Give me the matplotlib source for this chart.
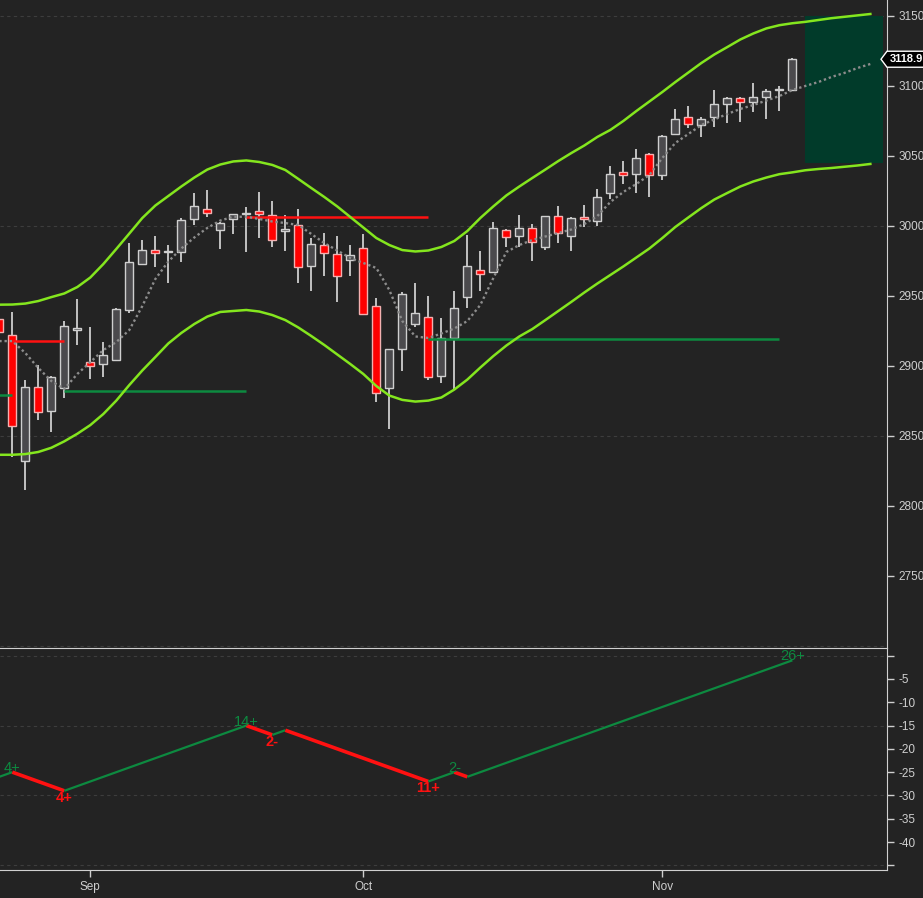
import matplotlib
matplotlib.use("Agg")
import matplotlib.pyplot as plt
from matplotlib.patches import Rectangle, Polygon
import numpy as np

plt.rcParams["font.family"] = ["Liberation Sans", "DejaVu Sans"]

# one candle per session, x = bar number (month ticks below)
bar_idx = list(range(-1, 61))
opens = [2933.1, 2921.7, 2832.1, 2884.6, 2867.9, 2884.3, 2925.5, 2902.4, 2901.0, 2904.3,
         2939.6, 2972.4, 2982.6, 2981.0, 2981.0, 3004.6, 3012.1, 2996.7, 3004.6, 3008.5,
         3010.3, 3007.4, 2996.0, 3000.7, 2971.0, 2986.0, 2979.6, 2975.7, 2983.9, 2942.4,
         2883.9, 2911.7, 2929.6, 2934.6, 2892.9, 2920.0, 2948.9, 2968.1, 2966.7, 2996.7,
         2992.4, 2998.1, 2984.6, 3006.7, 2992.4, 3006.0, 3003.6, 3023.1, 3038.6, 3036.7,
         3051.4, 3036.0, 3065.3, 3077.4, 3071.7, 3077.4, 3086.7, 3091.0, 3088.1, 3091.7,
         3096.7, 3097.1]
highs = [2936.0, 2938.1, 2889.8, 2900.5, 2893.0, 2931.7, 2947.6, 2927.6, 2916.9, 2941.0,
         2987.4, 2989.8, 2992.6, 2986.2, 3005.3, 3023.6, 3025.5, 3002.5, 3008.5, 3013.1,
         3023.9, 3017.6, 3007.6, 3011.7, 2991.4, 2994.6, 2992.6, 2986.0, 2994.1, 2948.1,
         2912.0, 2952.9, 2958.9, 2949.8, 2933.9, 2953.4, 2993.4, 2981.9, 3002.4, 2997.5,
         3007.6, 3001.2, 3007.0, 3014.1, 3006.0, 3014.8, 3026.2, 3042.6, 3046.2, 3054.8,
         3052.0, 3064.6, 3083.1, 3085.5, 3077.4, 3096.9, 3092.1, 3091.7, 3101.7, 3097.4,
         3099.6, 3119.6]
lows = [2920.0, 2835.0, 2811.2, 2861.2, 2852.9, 2876.7, 2914.8, 2890.3, 2892.1, 2903.6,
        2937.9, 2972.0, 2970.7, 2958.9, 2973.9, 3000.5, 3006.0, 2983.6, 2993.9, 2981.0,
        2991.4, 2985.0, 2982.1, 2958.9, 2953.6, 2964.3, 2945.7, 2964.3, 2936.2, 2873.9,
        2854.6, 2896.4, 2927.9, 2889.8, 2887.9, 2882.6, 2941.4, 2953.4, 2966.0, 2984.6,
        2985.0, 2975.0, 2983.0, 2987.9, 2982.1, 2999.1, 2999.8, 3018.9, 3029.6, 3023.1,
        3020.3, 3032.6, 3065.0, 3070.0, 3063.1, 3070.3, 3073.1, 3074.3, 3081.4, 3076.0,
        3082.1, 3096.5]
closes = [2923.9, 2857.1, 2884.6, 2866.7, 2891.7, 2928.1, 2927.0, 2900.0, 2907.4, 2940.3,
          2973.9, 2982.4, 2980.3, 2981.5, 3003.9, 3013.9, 3008.9, 3001.7, 3008.1, 3009.0,
          3008.1, 2989.6, 2997.6, 2970.3, 2986.7, 2980.3, 2963.9, 2978.9, 2937.1, 2880.3,
          2911.7, 2951.0, 2937.4, 2892.1, 2920.0, 2941.0, 2971.0, 2965.3, 2998.1, 2991.7,
          2998.1, 2988.1, 3006.7, 2994.6, 3005.7, 3004.6, 3020.3, 3036.7, 3036.0, 3048.1,
          3036.0, 3063.9, 3076.0, 3072.6, 3076.0, 3086.7, 3091.0, 3088.1, 3092.1, 3096.0,
          3097.4, 3118.9]

# envelope bands and dotted average, projected 6 bars past the last candle
band_idx = list(range(-1, 67))
upper_band = [2943.6, 2943.7, 2944.4, 2946.2, 2949.0, 2951.6, 2956.2, 2963.0, 2972.6, 2983.4,
              2994.4, 3005.5, 3014.4, 3021.2, 3028.0, 3034.4, 3040.1, 3043.7, 3045.9, 3046.6,
              3045.5, 3043.4, 3039.8, 3033.4, 3026.9, 3020.5, 3013.7, 3006.2, 2998.7, 2991.2,
              2986.2, 2982.6, 2981.6, 2982.3, 2984.8, 2989.1, 2996.2, 3005.5, 3013.8, 3021.6,
              3028.0, 3034.1, 3040.1, 3046.2, 3051.9, 3057.3, 3063.4, 3068.4, 3074.8, 3081.9,
              3088.7, 3095.5, 3102.6, 3109.4, 3116.2, 3122.3, 3127.6, 3133.0, 3137.3, 3140.9,
              3143.2, 3144.6, 3145.6, 3146.9, 3148.2, 3149.2, 3150.2, 3151.2]
lower_band = [2836.4, 2836.4, 2836.9, 2838.4, 2841.4, 2846.0, 2851.4, 2857.6, 2865.5, 2875.1,
              2886.2, 2896.6, 2906.2, 2915.9, 2923.4, 2929.8, 2935.1, 2938.4, 2939.1, 2939.8,
              2938.7, 2936.2, 2932.6, 2927.3, 2921.2, 2914.8, 2908.0, 2901.2, 2894.1, 2885.5,
              2878.7, 2875.6, 2874.4, 2875.1, 2877.3, 2883.0, 2890.1, 2898.7, 2906.9, 2914.4,
              2920.9, 2926.2, 2932.6, 2939.1, 2945.6, 2952.3, 2958.7, 2964.8, 2970.9, 2977.3,
              2983.7, 2991.2, 2999.1, 3005.9, 3012.6, 3018.7, 3023.4, 3028.0, 3031.6, 3034.4,
              3036.8, 3038.1, 3039.6, 3040.5, 3041.2, 3042.1, 3043.0, 3044.1]
mid_avg = [2917.6, 2917.6, 2909.1, 2898.4, 2889.1, 2883.4, 2894.1, 2902.6, 2911.2, 2916.9,
           2925.5, 2942.6, 2961.9, 2974.4, 2983.7, 2991.6, 2998.4, 3003.7, 3006.4, 3006.4,
           3004.8, 3003.0, 3001.9, 3000.5, 2994.1, 2987.6, 2982.3, 2976.9, 2973.4, 2969.8,
           2954.1, 2931.9, 2920.9, 2919.8, 2923.0, 2926.6, 2931.9, 2943.4, 2962.6, 2981.2,
           2986.2, 2989.8, 2992.3, 2994.8, 2997.3, 3001.2, 3006.9, 3016.9, 3024.1, 3029.8,
           3036.2, 3048.4, 3059.1, 3065.5, 3071.9, 3075.9, 3079.8, 3083.4, 3086.2, 3089.4,
           3092.6, 3096.9, 3099.8, 3102.6, 3106.2, 3109.1, 3112.6, 3115.5]

# support / resistance levels: (from bar, to bar, price)
red_levels = [(0, 4, 2917.6), (18, 32, 3006.4)]
green_levels = [(-2, 0, 2879.1), (4, 18, 2882.1), (32, 59, 2919.1)]

# target zone
zone_bars = (61, 67)
zone_prices = (3045, 3150)

# swing counter in the lower panel
swing_idx = [-1, 0, 4, 18, 20, 21, 32, 34, 35, 60]
swing_val = [-26, -25, -29, -15, -17, -16, -27, -25, -26, -1]
swing_lbl = ["", "4+", "4+", "14+", "2-", "", "11+", "2-", "", "26+"]

month_pos = [6, 27, 50]
month_lbl = ["Sep", "Oct", "Nov"]

BG = "#232323"
TXT = "#cfcfcf"
GRID = "#3d3d3d"
BAND = "#84e61e"
RED = "#ff1111"
GREEN = "#0d8a40"

fig = plt.figure(figsize=(9.23, 8.98), dpi=100, facecolor=BG)
ax = fig.add_axes([0, 250 / 898, 887 / 923, 648 / 898], facecolor=BG)
ax2 = fig.add_axes([0, 28 / 898, 887 / 923, 222 / 898], facecolor=BG)

x0, x1 = -0.946, 67.28

# --- price panel ---
ax.add_patch(Rectangle((zone_bars[0], zone_prices[0]), zone_bars[1] - zone_bars[0],
                       zone_prices[1] - zone_prices[0], facecolor="#013b2a", edgecolor="none", zorder=1))

o = np.array(opens)
c = np.array(closes)
up = c >= o
ax.vlines(bar_idx, lows, highs, color="#dcdcdc", lw=1.2, zorder=3)
body_lo = np.minimum(o, c)
body_h = np.maximum(np.abs(c - o), 0.7)
ax.bar(np.array(bar_idx)[up], body_h[up], bottom=body_lo[up], width=0.62,
       color="#4b4a4d", edgecolor="#cfcfcf", linewidth=1.0, zorder=4)
ax.bar(np.array(bar_idx)[~up], body_h[~up], bottom=body_lo[~up], width=0.62,
       color="#ff0000", edgecolor="#f3b0b0", linewidth=1.0, zorder=4)

for a, b, p in red_levels:
    ax.plot([a, b], [p, p], color=RED, lw=1.8, zorder=5, solid_capstyle="butt")
for a, b, p in green_levels:
    ax.plot([a, b], [p, p], color=GREEN, lw=1.8, zorder=5, solid_capstyle="butt")

ax.plot(band_idx, mid_avg, color="#8c8c8c", lw=1.7, linestyle=(0, (1, 1.2)), zorder=5)
ax.plot(band_idx, upper_band, color=BAND, lw=1.8, zorder=6, solid_joinstyle="round")
ax.plot(band_idx, lower_band, color=BAND, lw=1.8, zorder=6, solid_joinstyle="round")

ax.set_xlim(x0, x1)
ax.set_ylim(2698.4, 3161.2)
ax.set_yticks(np.arange(2750, 3151, 50))
ax.yaxis.set_major_formatter(matplotlib.ticker.FormatStrFormatter("%.0f"))
ax.yaxis.tick_right()
ax.set_xticks([])
ax.tick_params(axis="y", direction="out", length=5, width=1, colors=TXT, labelsize=8.5, pad=3)
for p in [2700, 2850, 3000, 3150]:
    ax.axhline(p, color=GRID, lw=0.8, linestyle=(0, (3, 3)), zorder=0)
for s in ["left", "top", "bottom"]:
    ax.spines[s].set_visible(False)
ax.spines["right"].set_color("#d0d0d0")

# last price tag
last = closes[-1]
px_x = 1 / 13.0
px_y = 1 / 1.4
tag = Polygon([(x1 - 6 * px_x, last), (x1, last + 8 * px_y), (x1 + 60 * px_x, last + 8 * px_y),
               (x1 + 60 * px_x, last - 8 * px_y), (x1, last - 8 * px_y)],
              closed=True, facecolor="black", edgecolor="white", lw=1, clip_on=False, zorder=10)
ax.add_patch(tag)
ax.text(x1 + 3 * px_x, last, "%.1f" % last, color="white", fontsize=8, fontweight="bold",
        va="center", ha="left", clip_on=False, zorder=11)

# --- swing panel ---
for i in range(len(swing_idx) - 1):
    rising = swing_val[i + 1] > swing_val[i]
    ax2.plot(swing_idx[i:i + 2], swing_val[i:i + 2], color=GREEN if rising else RED,
             lw=1.6 if rising else 2.6, solid_capstyle="butt", zorder=3)
for i, lbl in enumerate(swing_lbl):
    if not lbl:
        continue
    rising = swing_val[i] > swing_val[i - 1]
    ax2.text(swing_idx[i], swing_val[i], lbl, color=GREEN if rising else RED,
             fontsize=10.5, ha="center", va="baseline" if rising else "top",
             fontweight="normal" if rising else "bold", zorder=4)

ax2.set_xlim(x0, x1)
ax2.set_ylim(-46.0, 1.65)
ax2.yaxis.tick_right()
ax2.set_yticks(np.arange(-45, 1, 5))
ax2.set_yticklabels(["" if v in (0, -45) else str(v) for v in np.arange(-45, 1, 5)])
ax2.set_xticks(month_pos)
ax2.set_xticklabels(month_lbl)
ax2.tick_params(axis="both", direction="out", length=5, width=1, colors=TXT, labelsize=8.5, pad=3)
for v in [0, -15, -30, -45]:
    ax2.axhline(v, color=GRID, lw=0.8, linestyle=(0, (3, 3)), zorder=0)
ax2.spines["left"].set_visible(False)
for s in ["right", "top", "bottom"]:
    ax2.spines[s].set_color("#d0d0d0")

fig.savefig("out.png", dpi=100, facecolor=BG)
